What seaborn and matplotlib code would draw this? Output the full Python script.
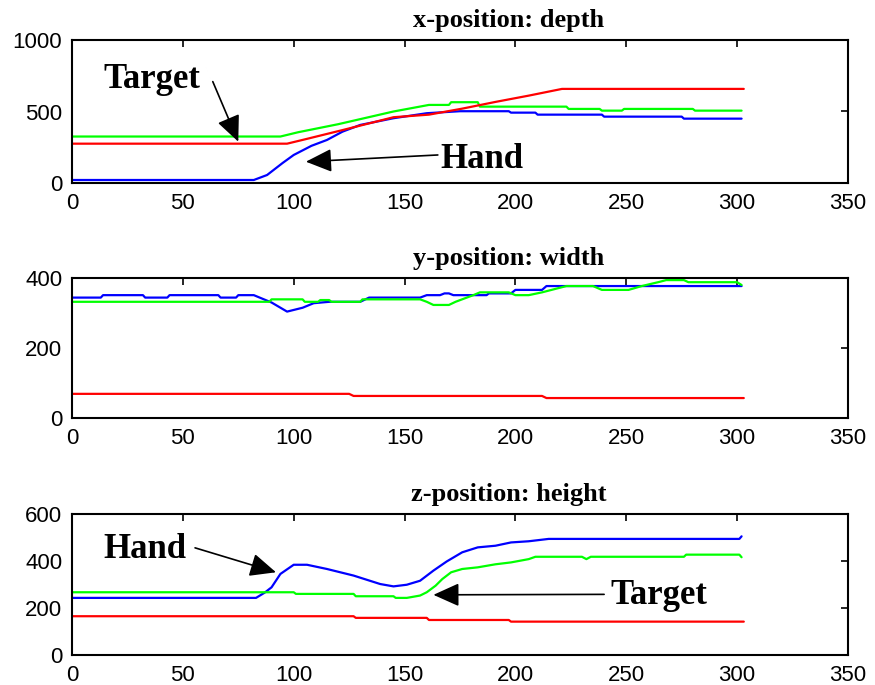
import matplotlib
matplotlib.use("Agg")
import matplotlib.pyplot as plt
import seaborn as sns

# --- data (time in samples, position in mm) ---
# x-position: depth
t_x_blue = [0, 82, 88, 95, 100, 108, 115, 122, 130, 145, 160, 175, 197, 198, 209, 210, 239, 240, 275, 276, 302]
x_blue = [21, 21, 56, 140, 196, 260, 301, 359, 406, 453, 488, 502, 502, 492, 492, 478, 478, 464, 464, 450, 450]
t_x_green = [0, 94, 102, 120, 145, 161, 170, 171, 183, 184, 223, 224, 238, 239, 248, 249, 280, 281, 302]
x_green = [325, 325, 355, 411, 500, 546, 546, 565, 565, 534, 534, 518, 518, 506, 506, 518, 518, 506, 506]
t_x_red = [0, 97, 105, 122, 145, 161, 176, 191, 206, 221, 303]
x_red = [275, 275, 305, 370, 460, 478, 520, 567, 611, 658, 658]

# y-position: width
t_y_blue = [0, 13, 14, 32, 33, 43, 44, 66, 67, 74, 75, 82, 90, 97, 104, 109, 116, 130, 134, 157, 160,
            166, 168, 170, 172, 187, 188, 198, 200, 212, 214, 302]
y_blue = [344, 344, 351, 351, 344, 344, 351, 351, 344, 344, 351, 351, 330, 304, 315, 328, 332, 332, 344, 344, 351,
          351, 356, 356, 351, 351, 356, 356, 366, 366, 377, 377]
t_y_green = [0, 89, 90, 104, 105, 111, 112, 116, 117, 130, 131, 157, 160, 163, 170, 173, 181, 184, 197,
             200, 206, 212, 223, 235, 239, 251, 257, 265, 268, 276, 278, 300, 302]
y_green = [332, 332, 339, 339, 332, 332, 337, 337, 332, 332, 339, 339, 332, 323, 323, 332, 351, 359, 359,
           351, 351, 359, 377, 377, 366, 366, 377, 389, 394, 394, 388, 388, 380]
t_y_red = [0, 125, 127, 212, 214, 303]
y_red = [69, 69, 63, 63, 57, 57]

# z-position: height
t_z_blue = [0, 83, 87, 90, 94, 100, 106, 115, 127, 139, 145, 151, 157, 163, 169, 176, 183, 191, 198, 206, 215, 301, 302]
z_blue = [243, 243, 266, 288, 345, 384, 384, 366, 338, 302, 292, 299, 316, 359, 398, 437, 458, 465, 479, 484, 494, 494, 505]
t_z_green = [0, 100, 101, 127, 128, 145, 146, 151, 157, 160, 164, 167, 171, 176, 183, 191, 198, 206, 209,
             230, 232, 234, 276, 277, 301, 302]
z_green = [267, 267, 260, 260, 250, 250, 243, 243, 253, 267, 295, 323, 352, 366, 373, 386, 394, 408, 418,
           418, 408, 418, 418, 427, 427, 416]
t_z_red = [0, 127, 128, 160, 161, 197, 198, 303]
z_red = [165, 165, 158, 158, 149, 149, 142, 142]

titles = ["x-position: depth", "y-position: width", "z-position: height"]
y_ticks = [[0, 500, 1000], [0, 200, 400], [0, 200, 400, 600]]
x_ticks = [0, 50, 100, 150, 200, 250, 300, 350]

sns.set_theme(style="white")
plt.rcParams["font.family"] = ["Liberation Sans", "DejaVu Sans"]
plt.rcParams["text.color"] = "black"

fig = plt.figure(figsize=(8.75, 6.85), dpi=100)
W, H = 875, 685
# axes boxes in pixels: (top, bottom)
boxes = [(40, 183), (278, 418), (514, 655)]
axes = []
for top, bottom in boxes:
    axes.append(fig.add_axes([72 / W, 1 - bottom / H, 776 / W, (bottom - top) / H]))

series = [
    [(t_x_blue, x_blue), (t_x_green, x_green), (t_x_red, x_red)],
    [(t_y_blue, y_blue), (t_y_green, y_green), (t_y_red, y_red)],
    [(t_z_blue, z_blue), (t_z_green, z_green), (t_z_red, z_red)],
]
colors = ["#0000ff", "#00ff00", "#ff0000"]

for i, ax in enumerate(axes):
    for (t, v), c in zip(series[i], colors):
        sns.lineplot(x=t, y=v, ax=ax, color=c, lw=1.6, estimator=None, sort=False)
    ax.set_xlim(0, 350)
    ax.set_ylim(y_ticks[i][0], y_ticks[i][-1])
    ax.set_xticks(x_ticks)
    ax.set_yticks(y_ticks[i])
    ax.tick_params(direction="in", length=5, width=1.2, color="black", labelsize=16,
                   pad=7, top=True, right=True, labelcolor="black")
    for s in ax.spines.values():
        s.set_visible(True)
        s.set_color("black")
        s.set_linewidth(1.5)
    h = boxes[i][1] - boxes[i][0]
    ax.text(0.563, 1 + 13 / h, titles[i], transform=ax.transAxes, ha="center", va="baseline",
            fontsize=19, fontweight="bold", family="Liberation Serif", color="black")

arrow = dict(arrowstyle="-|>,head_length=0.8,head_width=0.36", mutation_scale=20,
             color="black", lw=1.2, shrinkA=0, shrinkB=0)
label = dict(fontsize=25, fontweight="bold", family="Liberation Serif", ha="center", va="center",
             color="black")

ax1, ax2, ax3 = axes
ax1.text(36, 721, "Target", **label)
ax1.annotate("", xy=(75, 289), xytext=(63.5, 709), arrowprops=arrow)
ax1.text(185, 161, "Hand", **label)
ax1.annotate("", xy=(105.5, 149), xytext=(165, 196), arrowprops=arrow)

ax3.text(33, 450, "Hand", **label)
ax3.annotate("", xy=(92, 352), xytext=(55.5, 456), arrowprops=arrow)
ax3.text(264.5, 253, "Target", **label)
ax3.annotate("", xy=(163, 256), xytext=(240, 258), arrowprops=arrow)

fig.savefig("out.png", dpi=100)
